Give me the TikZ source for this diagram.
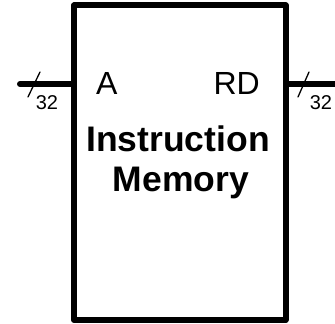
\documentclass[tikz,border=0pt]{standalone}
\usepackage{fontspec}
\setmainfont{Liberation Sans}

\begin{document}
\begin{tikzpicture}[x=1pt,y=1pt,line cap=round,line join=round,every node/.style={inner sep=0pt}]
  \useasboundingbox (0,0) rectangle (335,324);
  \tikzset{
    wire/.style={line width=6pt},
    busmark/.style={line width=1.3pt},
    port/.style={font=\fontsize{32}{38}\selectfont},
    width/.style={font=\fontsize{20}{24}\selectfont},
    title/.style={font=\fontsize{35.5}{40}\selectfont\bfseries}
  }
  \node[draw,line width=6pt,minimum width=211.5pt,minimum height=314.5pt] (mem) at (179.75,161.25) {};
  \coordinate (inA) at (20,240);
  \coordinate (outRD) at (340,240);
  \draw[wire] (inA) -- (inA -| mem.west);
  \draw[wire,line cap=butt] (outRD -| mem.east) -- (outRD);
  % bus width marks
  \draw[busmark] (28,227) -- (40,252);
  \draw[busmark] (298,227) -- (309,252);
  \node[width] (wA) at (47,221) {32};
  \node[width] (wRD) at (321,221) {32};
  \node[port,anchor=base west] (lblA) at (96,229) {A};
  \node[port,anchor=base east] (lblRD) at (260,229) {RD};
  \node[title,anchor=base] (name1) at (178,172) {Instruction};
  \node[title,anchor=base] (name2) at (181,132) {Memory};
\end{tikzpicture}
\end{document}
